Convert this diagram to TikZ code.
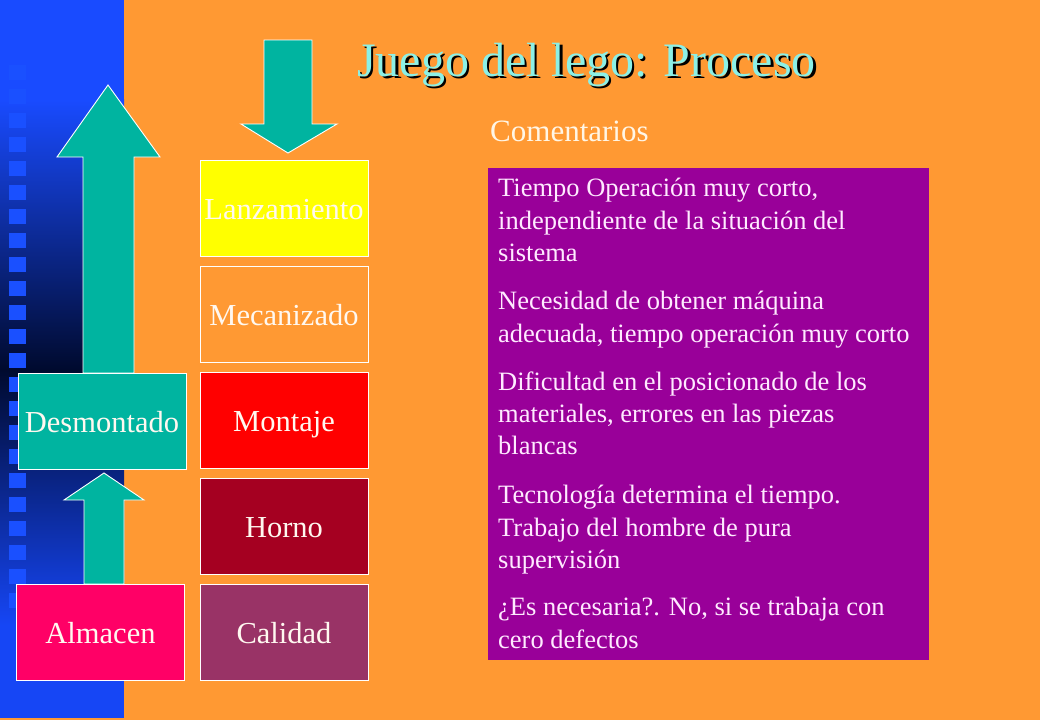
\documentclass[tikz,border=0pt]{standalone}
\usepackage{fontspec}
\setmainfont{Liberation Serif}
\definecolor{bgorange}{HTML}{FF9933}
\definecolor{sblue}{HTML}{194BFF}
\definecolor{sblue2}{HTML}{1646F5}
\definecolor{sdark}{HTML}{000A2E}
\definecolor{sqblue}{HTML}{1A50FF}
\definecolor{teal}{HTML}{00B4A0}
\definecolor{lanzc}{HTML}{FFFF00}
\definecolor{montc}{HTML}{FF0000}
\definecolor{hornc}{HTML}{A50021}
\definecolor{calc}{HTML}{993366}
\definecolor{almc}{HTML}{FF0066}
\definecolor{purp}{HTML}{990099}
\definecolor{titlec}{HTML}{8CF0E6}
\definecolor{labc}{HTML}{FFF8F0}
\definecolor{comc}{HTML}{FFEAFF}
\definecolor{hdrc}{HTML}{FFF6E6}
\newcommand{\shadowtext}[1]{\makebox[0pt][l]{\hspace{2.5pt}\raisebox{-2.5pt}{\color{black}#1}}\color{titlec}#1}
\begin{document}
\begin{tikzpicture}[x=1pt,y=-1pt,
  arrowshape/.style={fill=teal, draw=white, line width=0.9pt, line join=miter},
  pbox/.style={draw=white, line width=1pt, minimum width=168pt, minimum height=96pt,
    inner sep=0pt, text=labc, font=\fontsize{30.5}{36}\selectfont,
    text height=22pt, text depth=0pt},
  cline/.style={anchor=base west, inner sep=0pt, text=comc, font=\fontsize{26.5}{32}\selectfont},
  titletext/.style={anchor=base, inner sep=0pt, font=\fontsize{48}{56}\selectfont}]
\useasboundingbox (0,0) rectangle (1040,720);
% background
\fill[bgorange] (0,0) rectangle (1040,720);
% left blue strip
\fill[sblue] (0,0) rectangle (124,100);
\shade[top color=sblue, bottom color=sdark] (0,99.5) rectangle (124,370);
\shade[top color=sdark, bottom color=sblue2] (0,369.5) rectangle (124,625);
\fill[sblue2] (0,624.5) rectangle (124,718);
\foreach \k in {2,...,24}
  \fill[sqblue] (9,{17+24*\k}) rectangle (26,{32+24*\k});
% arrows
\filldraw[arrowshape] (83,373) -- (83,157) -- (57,157) -- (108,85) -- (160,157) -- (134,157) -- (134,373) -- cycle;
\filldraw[arrowshape] (84,584) -- (84,500) -- (64,500) -- (104,473) -- (144,500) -- (124,500) -- (124,584) -- cycle;
\filldraw[arrowshape] (264,40) -- (312,40) -- (312,124) -- (337,124) -- (288,153) -- (241,124) -- (264,124) -- cycle;
% process boxes
\node[pbox, fill=lanzc] (lanz) at (284,208) {Lanzamiento};
\node[pbox, fill=bgorange] (meca) at (284,314) {Mecanizado};
\node[pbox, fill=montc] (mont) at (284,420) {Montaje};
\node[pbox, fill=hornc] (horn) at (284,526) {Horno};
\node[pbox, fill=calc] (cali) at (284,632) {Calidad};
\node[pbox, fill=teal] (desm) at (102,421) {Desmontado};
\node[pbox, fill=almc] (alma) at (100.5,632) {Almacen};
% title with drop shadow
\node[titletext] (tit) at (586.5,76) {\shadowtext{Juego del lego: Proceso}};
% comments
\node[anchor=base west, inner sep=0pt, text=hdrc, font=\fontsize{31}{36}\selectfont] (hdr) at (490,141) {Comentarios};
\node[fill=purp, minimum width=441pt, minimum height=492pt, inner sep=0pt, anchor=north west] (com) at (488,168) {};
\foreach \t/\yy [count=\i] in {
  {Tiempo Operación muy corto,}/196,
  {independiente de la situación del}/229,
  {sistema}/261,
  {Necesidad de obtener máquina}/309,
  {adecuada, tiempo operación muy corto}/342,
  {Dificultad en el posicionado de los}/390,
  {materiales, errores en las piezas}/422,
  {blancas}/454,
  {Tecnología determina el tiempo.}/503,
  {Trabajo del hombre de pura}/536,
  {supervisión}/568,
  {¿Es necesaria?. No, si se trabaja con}/615,
  {cero defectos}/648}
  \node[cline] (cl\i) at (498,\yy) {\t};
\end{tikzpicture}
\end{document}
